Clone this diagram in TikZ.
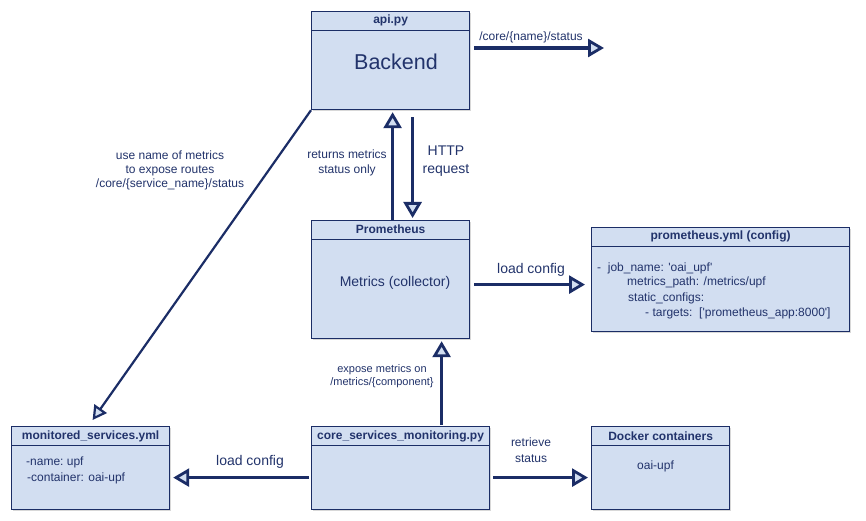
\documentclass[tikz,border=0pt]{standalone}
\usepackage{fontspec}
\setmainfont{Liberation Sans}
\usetikzlibrary{arrows.meta,calc,shadows}
\definecolor{boxfill}{HTML}{D2DEF1}
\definecolor{navy}{HTML}{1B2D66}
\definecolor{txt}{HTML}{22336B}
\tikzset{
 box/.style={draw=navy, line width=1.2pt, fill=boxfill, anchor=north west, inner sep=0pt,
   drop shadow={shadow xshift=1.5pt, shadow yshift=-1.5pt, opacity=0.3, fill=gray}},
 hdr/.style={font=\bfseries\fontsize{12}{14}\selectfont, text=txt, inner sep=0pt},
 hdrline/.style={draw=navy, line width=1pt},
 body/.style={text=txt, font=\fontsize{14}{17}\selectfont, inner sep=0pt},
 ytxt/.style={text=txt, font=\fontsize{12}{14}\selectfont, inner sep=0pt, anchor=west},
 lbl/.style={text=txt, font=\fontsize{12}{15}\selectfont, align=center, inner sep=0pt},
 arr/.style={draw=navy, line width=3.3pt, -{Triangle[length=16pt,width=18pt,fill=boxfill,line width=2.8pt]}},
 thinarr/.style={draw=navy, line width=2.2pt, -{Triangle[length=14pt,width=15pt,fill=boxfill,line width=2.2pt]}},
}
\begin{document}
\begin{tikzpicture}[x=1pt,y=-1pt]
\useasboundingbox (0,0) rectangle (866,521);
\fill[white] (0,0) rectangle (866,521);

% boxes
\node[box, minimum width=158pt, minimum height=98pt] (api) at (311,11) {};
\node[box, minimum width=158pt, minimum height=118pt] (prom) at (311,220) {};
\node[box, minimum width=258pt, minimum height=104pt] (promyml) at (591,227) {};
\node[box, minimum width=158pt, minimum height=83pt] (mon) at (11,426) {};
\node[box, minimum width=178pt, minimum height=83pt] (core) at (311,426) {};
\node[box, minimum width=138pt, minimum height=83pt] (docker) at (591,426) {};

% header lines
\foreach \b in {api,prom,promyml,mon,core,docker}{
  \draw[hdrline] ($(\b.north west)+(0,19.5)$) -- ($(\b.north east)+(0,19.5)$);
}

% headers
\node[hdr] (apih) at ($(api.north)+(0,9.5)$) {api.py};
\node[hdr] (promh) at ($(prom.north)+(0,9.5)$) {Prometheus};
\node[hdr] (promymlh) at ($(promyml.north)+(0,9.5)$) {prometheus.yml (config)};
\node[hdr] (monh) at ($(mon.north)+(0,10)$) {monitored\_services.yml};
\node[hdr] (coreh) at ($(core.north)+(0,10)$) {core\_services\_monitoring.py};
\node[hdr] (dockerh) at ($(docker.north)+(0,10)$) {Docker containers};

% bodies
\node[body, font=\fontsize{21.5}{25}\selectfont] (apib) at (396,62) {Backend};
\node[body] (promb) at (395,283) {Metrics (collector)};
\node[ytxt] (dockerb) at (637,466) {oai-upf};
\node[ytxt] (y1) at (597,268) {-\ \ job\_name: \textquotesingle oai\_upf\textquotesingle};
\node[ytxt] (y2) at (627,282) {metrics\_path: /metrics/upf};
\node[ytxt] (y3) at (628,298) {static\_configs:};
\node[ytxt] (y4) at (645,313) {- targets:\ \ [\textquotesingle prometheus\_app:8000\textquotesingle]};
\node[ytxt] (m1) at (26,462) {-name:\ upf};
\node[ytxt] (m2) at (27,478) {-container: oai-upf};

% connectors
\coordinate (apiout) at (604,48);
\draw[arr] ($(api.north east)+(4,37)$) -- (apiout);
\draw[arr] ($(prom.north)+(2,0)$) -- ($(api.south)+(2,2)$);
\draw[arr] ($(api.south)+(22,7)$) -- ($(prom.north)+(22,-2)$);
\draw[arr] ($(prom.east)+(4,5)$) -- ($(promyml.west)+(-6,5)$);
\draw[arr] ($(core.north)+(41,-1)$) -- ($(prom.south)+(51,2)$);
\draw[arr] ($(core.west)+(-2,9.5)$) -- ($(mon.east)+(3,9.5)$);
\draw[arr] ($(core.east)+(3,9.5)$) -- ($(docker.west)+(-3,9.5)$);
\draw[thinarr] ($(api.south west)+(0,0)$) -- ($(mon.north)+(2,-6)$);

% labels
\node[lbl] (l1) at (531,37) {/core/\{name\}/status};
\node[lbl] (l2) at (347,163) {returns metrics\\status only};
\node[lbl, font=\fontsize{14}{18}\selectfont] (l3) at (446,161) {HTTP\\request};
\node[lbl, font=\fontsize{14}{17}\selectfont] (l4) at (531,270) {load config};
\node[lbl, font=\fontsize{11}{13}\selectfont] (l5) at (382,376) {expose metrics on\\/metrics/\{component\}};
\node[lbl, font=\fontsize{14}{17}\selectfont] (l6) at (250,462) {load config};
\node[lbl, font=\fontsize{12}{16}\selectfont] (l7) at (531,450) {retrieve\\status};
\node[lbl, font=\fontsize{12}{14}\selectfont] (l8) at (170,170) {use name of metrics\\to expose routes\\/core/\{service\_name\}/status};
\end{tikzpicture}
\end{document}
